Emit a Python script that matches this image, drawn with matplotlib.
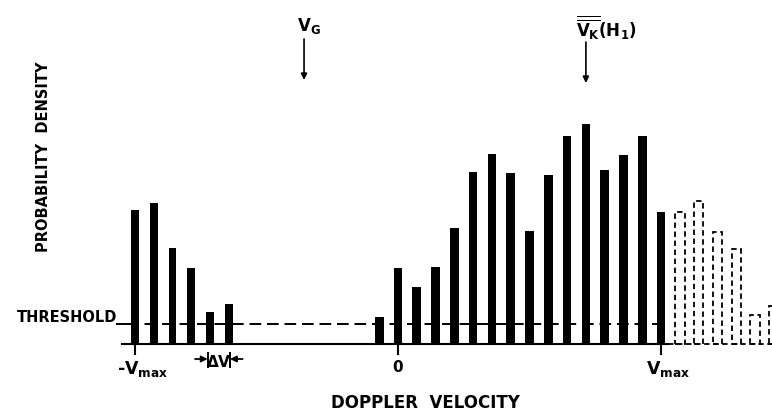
import numpy as np
import matplotlib.pyplot as plt

plt.rcParams['font.family'] = 'DejaVu Sans'
plt.rcParams['font.weight'] = 'bold'
plt.rcParams['mathtext.fontset'] = 'custom'
plt.rcParams['mathtext.rm'] = 'DejaVu Sans:bold'
plt.rcParams['mathtext.it'] = 'DejaVu Sans:bold'
plt.rcParams['mathtext.bf'] = 'DejaVu Sans:bold'

# velocity bins (units of delta V), -Vmax = -14, Vmax = 14
left_bins = [-14, -13, -12, -11, -10, -9]
left_vals = [134, 141, 96, 76, 32, 40]
main_bins = [-1, 0, 1, 2, 3, 4, 5, 6, 7, 8, 9, 10, 11, 12, 13, 14]
main_vals = [27, 76, 57, 77, 116, 172, 190, 171, 113, 169, 208, 220, 174, 189, 208, 132]
# aliased part beyond +Vmax (dashed)
alias_bins = [15, 16, 17, 18, 19, 20]
alias_vals = [132, 143, 112, 95, 29, 38]
threshold = 20
v_g = -5
v_k = 10

fig = plt.figure(figsize=(7.72, 4.16), dpi=100)
ax = fig.add_axes([0, 0, 1, 1])
ax.set_xlim(-398 / 18.79, 374 / 18.79)
ax.set_ylim(-72, 344)
ax.axis('off')

ax.bar(left_bins, left_vals, width=0.42, color='black')
ax.bar(main_bins, main_vals, width=0.46, color='black')
ax.bar(alias_bins, alias_vals, width=0.5, fill=False, edgecolor='black',
       linestyle=(0, (3, 2)), linewidth=1.3)

# baseline
ax.plot([-14.69, 14.37], [0, 0], color='black', lw=1.5)
ax.plot([14.37, 20.5], [0, 0], color='black', lw=1.3, linestyle=(0, (3, 2)))

# threshold
ax.plot([-14.95, -14.4], [threshold, threshold], color='black', lw=1.4)
ax.plot([-14.4, 14.37], [threshold, threshold], color='black', lw=1.4,
        linestyle=(0, (6, 3)))
ax.text(-14.95, threshold + 2, 'THRESHOLD', ha='right', va='baseline', fontsize=10.5)

# ticks
for k in [-14, 0, 14]:
    ax.plot([k, k], [0, -10], color='black', lw=1.5)
ax.text(-13.6, -25, r'-V$_{max}$', ha='center', va='center', fontsize=12.5)
ax.text(0, -23, '0', ha='center', va='center', fontsize=11)
ax.text(14.37, -25, r'V$_{max}$', ha='center', va='center', fontsize=12.5)

# delta V marker
ax.plot([-10.13, -10.13], [-9, -23], color='black', lw=1.4)
ax.plot([-8.94, -8.94], [-9, -23], color='black', lw=1.4)
ax.annotate('', xy=(-10.13, -15), xytext=(-10.8, -15),
            arrowprops=dict(arrowstyle='-|>', color='black', lw=1.3, mutation_scale=9,
                            shrinkA=0, shrinkB=0))
ax.annotate('', xy=(-8.94, -15), xytext=(-8.27, -15),
            arrowprops=dict(arrowstyle='-|>', color='black', lw=1.3, mutation_scale=9,
                            shrinkA=0, shrinkB=0))
ax.text(-9.53, -18, r'$\Delta$V', ha='center', va='center', fontsize=11)

# arrows at top
ax.annotate('', xy=(v_g, 264), xytext=(v_g, 305),
            arrowprops=dict(arrowstyle='-|>', color='black', lw=1.2, mutation_scale=9,
                            shrinkA=0, shrinkB=0))
ax.text(v_g + 0.25, 318, r'V$_G$', ha='center', va='center', fontsize=12)
ax.annotate('', xy=(v_k, 261), xytext=(v_k, 302),
            arrowprops=dict(arrowstyle='-|>', color='black', lw=1.2, mutation_scale=9,
                            shrinkA=0, shrinkB=0))
ax.text(9.45, 316, r'$\overline{\overline{V_K}}$(H$_1$)', ha='left', va='center', fontsize=12)

ax.text(-18.84, 187, 'PROBABILITY  DENSITY', rotation=90, ha='center', va='center',
        fontsize=10.5)
ax.text(1.44, -59, 'DOPPLER  VELOCITY', ha='center', va='center', fontsize=12)

fig.savefig('out.png', dpi=100)
